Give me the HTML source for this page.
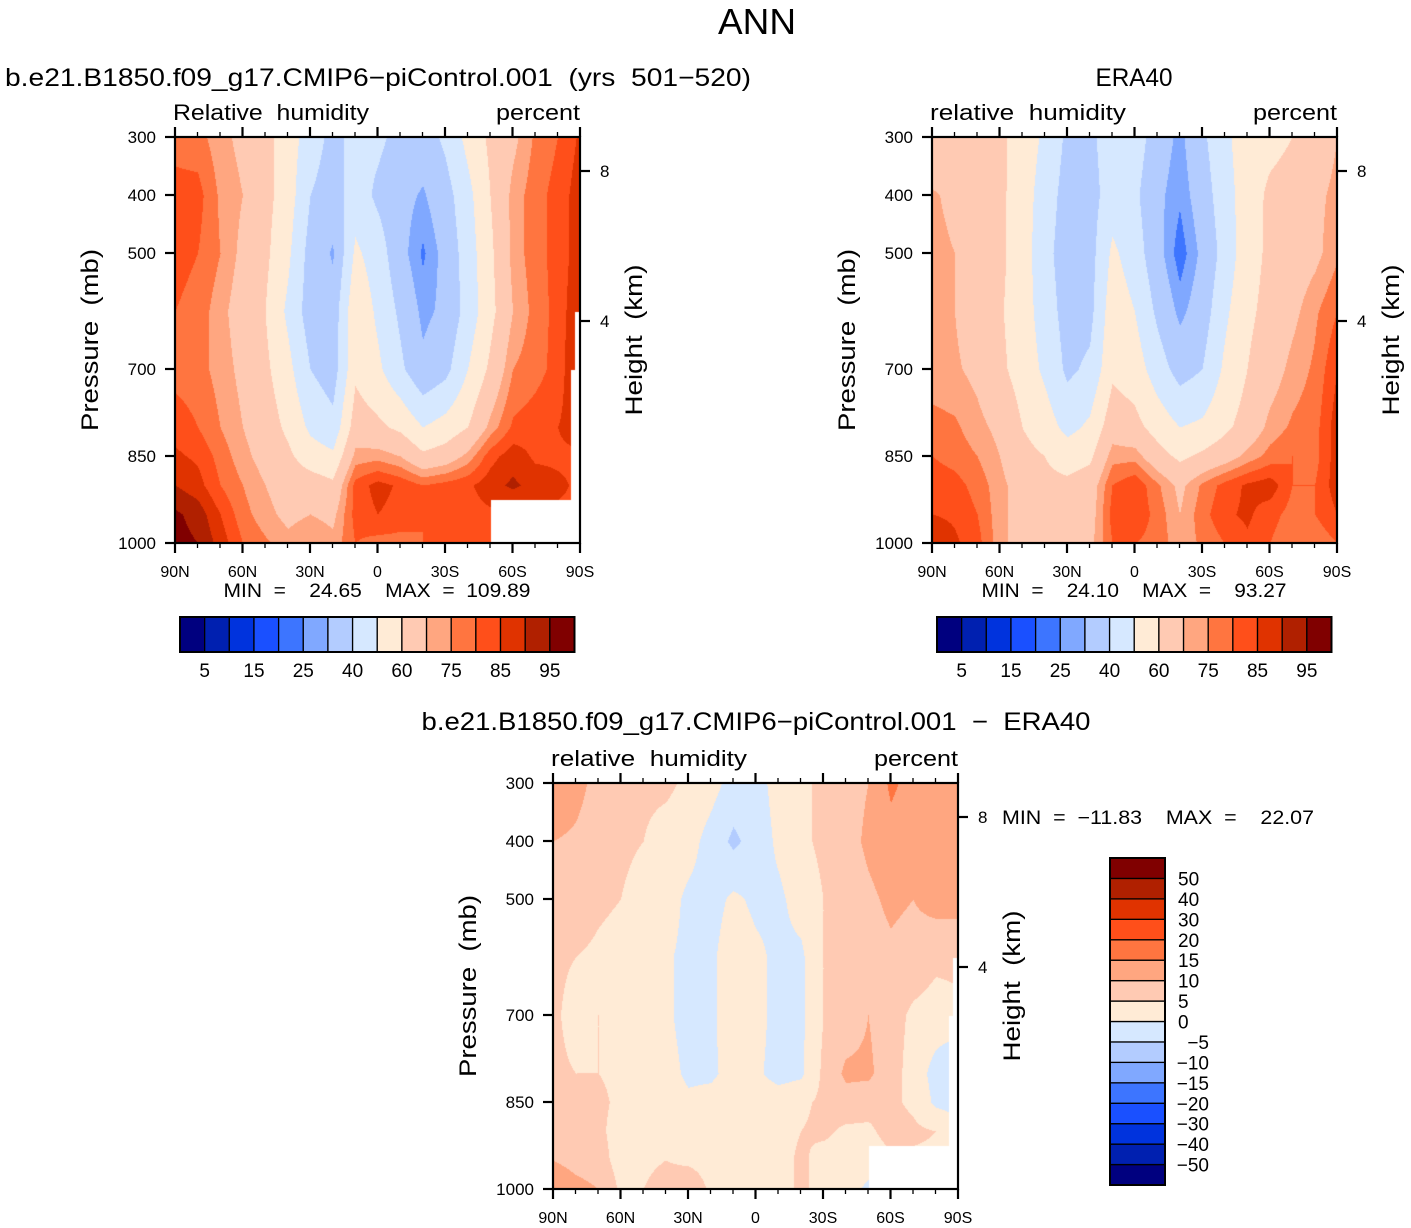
<!DOCTYPE html>
<html><head><meta charset="utf-8"><style>
body{margin:0;background:#fff;width:1411px;height:1228px;overflow:hidden;position:relative;font-family:"Liberation Sans",sans-serif}
canvas{position:absolute}
svg{position:absolute;left:0;top:0}
svg text{font-family:"Liberation Sans",sans-serif;white-space:pre}
</style></head><body>
<canvas id="c1" width="405" height="406" style="left:175px;top:137px"></canvas>
<canvas id="c2" width="405" height="406" style="left:932px;top:137px"></canvas>
<canvas id="c3" width="405" height="406" style="left:553px;top:783px"></canvas>
<svg id="s" width="1411" height="1228"></svg>
<script>
const palette=["#00007f","#0020b0","#0033dd","#1a50ff","#3d75ff","#80a8ff","#b3ccff","#d6e8ff","#ffebd6","#ffcab3","#ffa680","#ff7540","#ff4f1a","#e03300","#b02000","#800000"];
const rhLevels=[5,10,15,20,25,30,40,50,60,70,75,80,85,90,95];
const diffLevels=[-50,-40,-30,-20,-15,-10,-5,0,5,10,15,20,30,40,50];
const lats=[90,80,70,60,50,40,30,20,10,0,-10,-20,-30,-40,-50,-60,-70,-80,-90];
const pressures=[300,400,500,600,700,800,850,900,950,1000];
const latTicks=[90,60,30,0,-30,-60,-90];
const latTickLabels=["90N","60N","30N","0","30S","60S","90S"];
const pTicks=[300,400,500,700,850,1000];
const heightTicks=[[8,171],[4,321]];
const rhBarLabels=["5","15","25","40","60","75","85","95"];
const diffBarLabels=["50","40","30","20","15","10","5","0","\u22125","\u221210","\u221215","\u221220","\u221230","\u221240","\u221250"];
const modelRH=[
[78,77,72,68,63,55,45,37,43,42,37,35,42,53,62,68,76,80,86],
[82,82,74,70,63,55,40,35,45,38,33,29,36,47,60,72,78,82,88],
[82,80,75,68,62,52,36,29,52,45,33,24,33,45,58,72,78,82,88],
[80,78,72,66,60,48,35,34,58,48,38,28,32,44,57,70,77,82,90],
[78,77,73,68,62,53,40,35,58,52,42,32,37,50,62,75,78,82,92],
[83,80,75,70,65,58,48,43,65,62,58,50,54,60,72,81,83,85,88],
[86,84,78,72,67,62,55,52,72,73,70,62,65,72,83,88,84,84,84],
[90,87,80,75,70,66,65,62,82,87,84,80,82,84,88,91,88,86,84],
[96,93,85,77,72,68,70,68,82,85,83,80,82,83,84,84,84,84,84],
[97,95,88,80,76,72,75,72,80,78,78,80,82,82,84,84,84,84,84]];
const eraRH=[
[62,64,63,62,56,48,38,38,45,45,35,28,38,48,55,57,60,64,70],
[71,68,64,62,55,45,36,36,45,42,32,26,35,46,55,62,64,68,72],
[72,70,65,62,55,43,35,36,52,45,33,22,32,44,56,62,65,68,74],
[72,70,65,61,55,45,36,37,56,50,38,28,35,48,58,63,68,74,80],
[72,71,68,62,56,48,38,42,58,55,45,36,40,52,60,66,72,76,85],
[77,76,72,68,60,55,47,52,66,63,56,50,52,58,64,72,76,78,88],
[80,78,75,70,63,60,56,58,73,73,64,58,62,66,72,77,80,78,88],
[83,82,78,72,66,62,62,65,80,84,76,68,76,82,86,88,80,80,88],
[85,84,80,72,66,62,62,66,82,84,78,70,78,84,86,82,78,80,85],
[90,86,82,72,66,62,62,68,80,80,78,72,76,80,84,80,76,76,80]];
const diffRH=[
[15,12,8,7,6,6,4,2,-2,-2,2,4,6,8,10,16,13,11,11],
[10,9,7,6,5,3,2,-2,-6,-3,1,4,6,8,11,13,12,11,11],
[7,8,6,5,3,2,-1,-2,1,-1,-1,2,5,7,9,11,10,12,12],
[6,5,4,3,2,0.5,-1,-1,3,1,-1,-1,5,7,8,9,8,6,6],
[6,3,5,3,3,1,-2,-1,3,2,-2,-1,5,7,10,7,4,3,4],
[6,5,5,4,3,2,-1,-1,2,1,-2,-1,6,11,11,7,3,-2,-6],
[6,6,6,4,3,3,1,2,3,3,3,4,6,8,7,6,4,-1,-3],
[8,7,6,3,2,4,3,2,3,2,3,5,6,4,4,7,6,5,4],
[10,8,7,3,4,5,4,3,4,3,3,6,3,3,2,4,4,4,4],
[15,12,10,4,5,7,9,4,4,4,3,6,3,2,-1,2,2,2,2]];

const W=405,H=406;
const xOf=lat=>(90-lat)/180*W;
const yOf=p=>(p-300)/700*H;
function hex(c){return [parseInt(c.substr(1,2),16),parseInt(c.substr(3,2),16),parseInt(c.substr(5,2),16)];}
const rgb=palette.map(hex);
function drawField(id,grid,levels,masked){
  const cv=document.getElementById(id),ctx=cv.getContext('2d');
  const im=ctx.createImageData(W,H);
  const xs=lats.map(xOf), ys=pressures.map(yOf);
  for(let y=0;y<H;y++){
    let r=0;while(r<ys.length-2&&y>ys[r+1])r++;
    const ty=Math.min(1,Math.max(0,(y-ys[r])/(ys[r+1]-ys[r])));
    for(let x=0;x<W;x++){
      let c=0;while(c<xs.length-2&&x>xs[c+1])c++;
      const tx=Math.min(1,Math.max(0,(x-xs[c])/(xs[c+1]-xs[c])));
      const v=(grid[r][c]*(1-tx)+grid[r][c+1]*tx)*(1-ty)+(grid[r+1][c]*(1-tx)+grid[r+1][c+1]*tx)*ty;
      let k=0;while(k<levels.length&&v>=levels[k])k++;
      let col=rgb[k];
      if(masked&&((x>=316&&y>=363)||(x>=396&&y>=233)||(x>=400&&y>=175)))col=[255,255,255];
      const i=(y*W+x)*4;im.data[i]=col[0];im.data[i+1]=col[1];im.data[i+2]=col[2];im.data[i+3]=255;
    }
  }
  ctx.putImageData(im,0,0);
}
drawField('c1',modelRH,rhLevels,true);
drawField('c2',eraRH,rhLevels,false);
drawField('c3',diffRH,diffLevels,true);

const S=document.getElementById('s');const NS='http://www.w3.org/2000/svg';
function el(tag,attrs,txt,name){const e=document.createElementNS(NS,tag);for(const k in attrs)e.setAttribute(k,attrs[k]);if(txt!==undefined)e.textContent=txt;


S.appendChild(e);return e;}
function txt(x,y,s,size,anchor,name,extra){const a={x:x,y:y,'font-size':size,'text-anchor':anchor||'start',fill:'#000'};if(extra)Object.assign(a,extra);return el('text',a,s,name);}
function wide(len){return {textLength:len,lengthAdjust:'spacingAndGlyphs'};}
function axes(X,Y,left,right){
  el('rect',{x:X,y:Y,width:W,height:H,fill:'none',stroke:'#000','stroke-width':2.2},undefined,'plot-frame');
  for(let lat=90;lat>=-90;lat-=10){const x=X+xOf(lat);const major=lat%30===0;const L=major?10:5;
    el('line',{x1:x,y1:Y+H,x2:x,y2:Y+H+L,stroke:'#000','stroke-width':major?2.2:1.3},undefined,'x-tick');
    el('line',{x1:x,y1:Y,x2:x,y2:Y-L,stroke:'#000','stroke-width':major?2.2:1.3},undefined,'x-tick-top');}
  latTicks.forEach((lat,i)=>txt(X+xOf(lat),Y+H+34,latTickLabels[i],16,'middle','x-tick-label'));
  pTicks.forEach(p=>{const y=Y+yOf(p);el('line',{x1:X-10,y1:y,x2:X,y2:y,stroke:'#000','stroke-width':2.2},undefined,'y-tick');
    txt(X-19,y+6,String(p),17,'end','y-tick-label');});
  heightTicks.forEach(h=>{const y=Y+h[1]-137;el('line',{x1:X+W,y1:y,x2:X+W+10,y2:y,stroke:'#000','stroke-width':2.2},undefined,'height-tick');
    txt(X+W+20,y+6,String(h[0]),17,'start','height-tick-label');});
  txt(X-77,Y+203,'Pressure  (mb)',24,'middle','y-axis-title',Object.assign({transform:`rotate(-90 ${X-77} ${Y+203})`},wide(182)));
  txt(X+W+62,Y+203,'Height  (km)',24,'middle','right-axis-title',Object.assign({transform:`rotate(-90 ${X+W+62} ${Y+203})`},wide(151)));
  txt(X-2,Y-17,left,22,'start','variable-label',wide(196));
  txt(X+W,Y-17,'percent',22,'end','units-label',wide(84));
}
txt(757,34,'ANN',36,'middle','main-title',wide(78));
txt(5,86,'b.e21.B1850.f09_g17.CMIP6\u2212piControl.001  (yrs  501\u2212520)',25,'start','model-title',wide(746));
txt(1134,86,'ERA40',25,'middle','era40-title',wide(77));
txt(756,730,'b.e21.B1850.f09_g17.CMIP6\u2212piControl.001  \u2212  ERA40',25,'middle','difference-title',wide(669));
axes(175,137,'Relative  humidity');
axes(932,137,'relative  humidity');
axes(553,783,'relative  humidity');
txt(377,597,'MIN  =    24.65    MAX  =  109.89',19,'middle','model-min-max',wide(307));
txt(1134,597,'MIN  =    24.10    MAX  =    93.27',19,'middle','era40-min-max',wide(305));
txt(1002,824,'MIN  =  \u221211.83    MAX  =    22.07',19,'start','difference-min-max',wide(312));
function hbar(X){const bw=394.5/16;
  palette.forEach((c,i)=>el('rect',{x:X+i*bw,y:617,width:bw,height:35,fill:c,stroke:'#000','stroke-width':1.3},undefined,'colorbar-box'));
  el('rect',{x:X,y:617,width:394.5,height:35,fill:'none',stroke:'#000','stroke-width':2},undefined,'colorbar-frame');
  rhBarLabels.forEach((s,i)=>txt(X+bw*(1+2*i),677,s,19,'middle','colorbar-label'));}
hbar(180);hbar(937);
const vb=327/16;
palette.forEach((c,i)=>el('rect',{x:1110,y:858+(15-i)*vb,width:55,height:vb,fill:c,stroke:'#000','stroke-width':1.3},undefined,'diff-colorbar-box'));
el('rect',{x:1110,y:858,width:55,height:327,fill:'none',stroke:'#000','stroke-width':2},undefined,'diff-colorbar-frame');
diffBarLabels.forEach((s,i)=>txt(1200,858+vb*(1+i)+7,s,19,'end','diff-colorbar-label',{'text-anchor':s.startsWith('\u2212')?'end':'start',x:s.startsWith('\u2212')?1209:1178}));
</script>
</body></html>
